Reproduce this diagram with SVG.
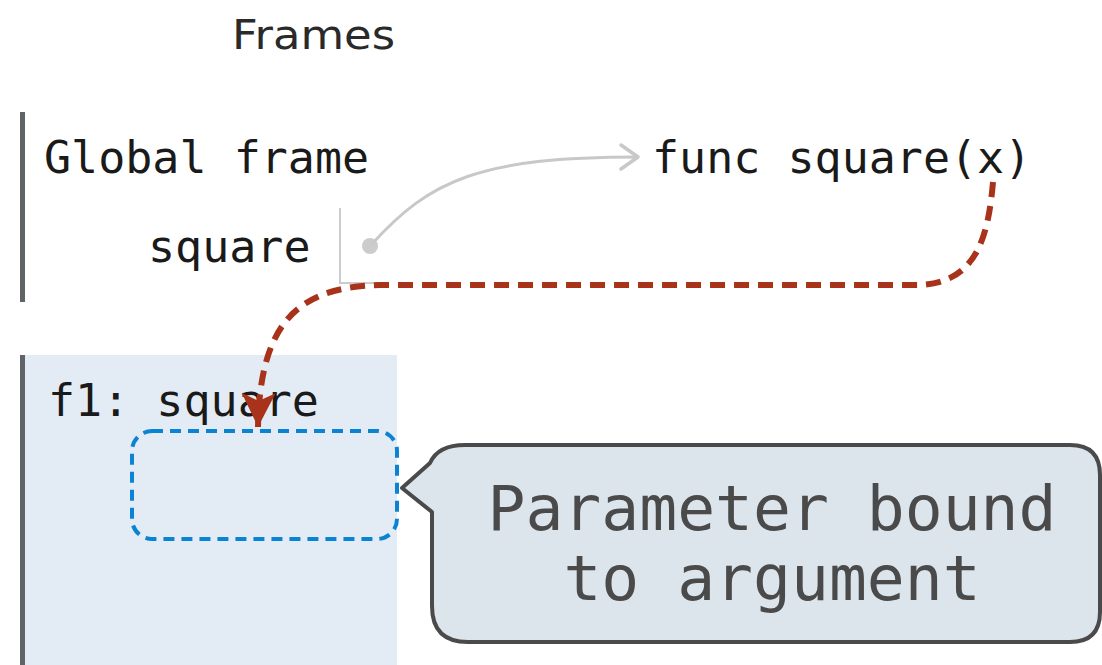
<svg xmlns="http://www.w3.org/2000/svg" width="1102" height="665" viewBox="0 0 1102 665">
<style>
.mono{font-family:"DejaVu Sans Mono","Liberation Mono",monospace;font-size:45px;fill:#1a1a1a}
.bar{fill:#5f6466}
.call{font-family:"DejaVu Sans Mono","Liberation Mono",monospace;font-size:63px;fill:#4a4a4a;text-anchor:middle}
</style>
<defs>
<marker id="chev" markerUnits="userSpaceOnUse" viewBox="-20 -16 24 32" markerWidth="24" markerHeight="32" refX="0" refY="0" orient="auto">
<path d="M-17,-12 L0,0 L-17,12" fill="none" stroke="#c8c8c8" stroke-width="3.5" stroke-linecap="round" stroke-linejoin="round"/>
</marker>
<marker id="redhead" markerUnits="userSpaceOnUse" viewBox="-36 -18 38 36" markerWidth="38" markerHeight="36" refX="0" refY="0" orient="auto">
<path d="M0,0 L-34,-17 L-26,0 L-34,17 Z" fill="#a8321a"/>
</marker>
</defs>
<rect width="1102" height="665" fill="#ffffff"/>
<text x="232" y="49" font-family="'DejaVu Sans','Liberation Sans',sans-serif" font-size="40" fill="#2a2a2a" textLength="163" lengthAdjust="spacingAndGlyphs">Frames</text>
<g id="global-frame">
<rect class="bar" x="20" y="112" width="5" height="190"/>
<text class="mono" x="44" y="173">Global frame</text>
<text class="mono" x="148" y="262">square</text>
<path d="M340,208 L340,283 L382,283" fill="none" stroke="#cccccc" stroke-width="2"/>
<circle cx="370" cy="246" r="8" fill="#cccccc"/>
</g>
<g id="func-square">
<text class="mono" x="652" y="173">func square(x)</text>
</g>
<g id="f1-frame">
<rect x="20" y="355" width="377" height="310" fill="#e3ebf5"/>
<rect class="bar" x="20" y="355" width="5" height="310"/>
<text class="mono" x="48" y="416">f1: square</text>
<rect x="132" y="431" width="265" height="108" rx="20" ry="20" fill="none" stroke="#0a84d2" stroke-width="4" stroke-dasharray="11,7"/>
</g>
<g id="callout">
<path d="M402,488 L430,463 Q438,445 465,445 L1070,445 Q1100,445 1100,475 L1100,612 Q1100,642 1070,642 L468,642 Q432,642 432,606 L432,512 Z" fill="#dce4ec" stroke="#4a4a4a" stroke-width="4" stroke-linejoin="round"/>
<text class="call" x="772" y="530">Parameter bound</text>
<text class="call" x="772" y="600">to argument</text>
</g>
<g id="connectors">
<path d="M372,244 C430,180 480,157 638,157" fill="none" stroke="#c8c8c8" stroke-width="3" marker-end="url(#chev)"/>
<path d="M993,182 C988,240 975,285 915,285 L380,285 C300,287 260,320 258,427" fill="none" stroke="#a8321a" stroke-width="6" stroke-dasharray="15,9" marker-end="url(#redhead)"/>
</g>
</svg>
